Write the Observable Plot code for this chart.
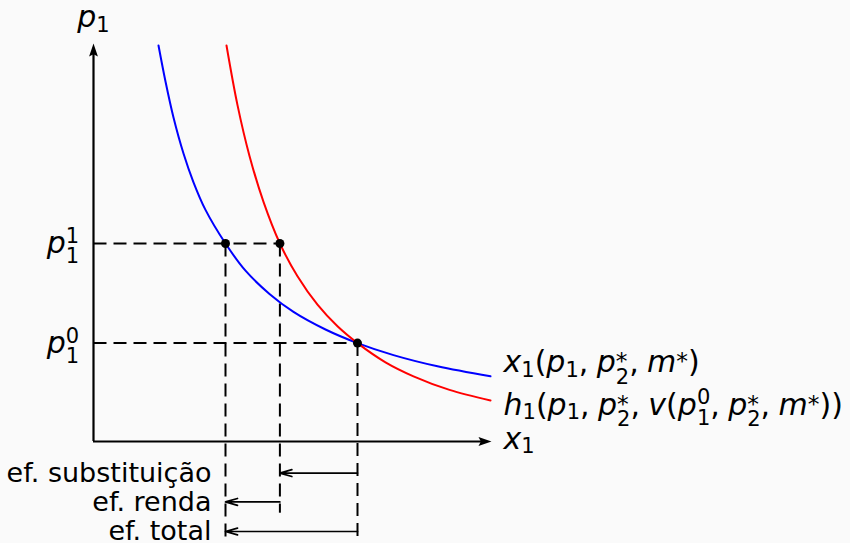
<!DOCTYPE html>
<html>
<head>
<meta charset="utf-8">
<script src="https://cdn.jsdelivr.net/npm/d3@7"></script>
<script src="https://cdn.jsdelivr.net/npm/@observablehq/plot@0.6"></script>
<style>
html, body { margin: 0; padding: 0; background: #fafafa; }
#chart svg { display: block; }
</style>
</head>
<body>
<div id="chart"></div>
<script>
// ---- data ----
// Marshallian demand x1(p1, p2*, m*) (blue)
const blueX = [1.625, 1.8, 2.0, 2.25, 2.5, 2.8, 3.3, 3.8, 4.4, 5.0, 5.8, 6.6, 7.5, 8.6, 9.925];
const blueP = [9.9, 9.0, 8.1, 7.2, 6.48, 5.79, 4.95, 4.27, 3.69, 3.24, 2.8, 2.46, 2.16, 1.88, 1.63];
// Hicksian demand h1 (red)
const redX = [3.325, 3.6, 3.9, 4.25, 4.66, 5.1, 5.6, 6.1, 6.6, 7.3, 8.0, 8.9, 9.925];
const redP = [9.9, 8.41, 7.14, 5.99, 4.95, 4.13, 3.42, 2.88, 2.46, 1.98, 1.63, 1.29, 1.025];

// price levels and tick labels
const priceLevels = [4.95, 2.46];
const priceLabels = ["p_1^1", "p_1^0"];

// marked points (x, p)
const pointX = [3.3, 4.66, 6.6];
const pointP = [4.95, 4.95, 2.46];

// horizontal guides: from axis to point
const hGuideP = [4.95, 2.46];
const hGuideToX = [4.66, 6.6];
// vertical guides: from point down
const vGuideX = [3.3, 4.66, 6.6];
const vGuideFromP = [4.95, 4.95, 2.46];
const vGuideToP = [-2.6, -1.78, -2.6];

// effects
const effectNames = ["ef. substituição", "ef. renda", "ef. total"];
const effectFrom = [6.6, 4.66, 6.6];
const effectTo = [4.66, 3.3, 3.3];
const effectRow = [-0.79, -1.51, -2.25];
const effectLabelX = 2.95;

// curve labels
const curveLabels = ["x_1(p_1, p_2^*, m^*)", "h_1(p_1, p_2^*, v(p_1^0, p_2^*, m^*))"];
const curveLabelY = [1.975, 0.915];
const curveLabelX = 10.25;

// axes
const axisTip = 9.95;
const axisLineEnd = 9.75;
const axisNames = ["p_1", "x_1"];

// ---- build ----
const arrowHead = {
  draw(ctx, size) {
    const s = Math.sqrt(size / Math.PI);
    ctx.moveTo(0, 0);
    ctx.lineTo(-0.34 * s, s);
    ctx.lineTo(0, 0.82 * s);
    ctx.lineTo(0.34 * s, s);
    ctx.closePath();
  }
};

const F = "DejaVu Sans";
const MATH = 30;
const TXT = 27;

const hGuides = hGuideP.map((p, i) => ({x1: 0, y1: p, x2: hGuideToX[i], y2: p}));
const vGuides = vGuideX.map((x, i) => ({x1: x, y1: vGuideFromP[i], x2: x, y2: vGuideToP[i]}));
const blue = blueX.map((x, i) => ({x, p: blueP[i]}));
const red = redX.map((x, i) => ({x, p: redP[i]}));
const points = pointX.map((x, i) => ({x, p: pointP[i]}));
const effects = effectNames.map((n, i) => ({n, x1: effectFrom[i], x2: effectTo[i], y: effectRow[i]}));

const plot = Plot.plot({
  width: 850,
  height: 543,
  margin: 0,
  x: {domain: [0, 10], range: [93, 493], axis: null},
  y: {domain: [0, 10], range: [441, 41], axis: null},
  style: {background: "#fafafa", fontFamily: F, overflow: "visible"},
  marks: [
    // dashed guides
    Plot.link(hGuides, {x1: "x1", y1: "y1", x2: "x2", y2: "y2", stroke: "black", strokeWidth: 2, strokeDasharray: "13,7"}),
    Plot.link(vGuides, {x1: "x1", y1: "y1", x2: "x2", y2: "y2", stroke: "black", strokeWidth: 2, strokeDasharray: "13,7"}),
    // axes
    Plot.ruleX([0], {y1: 0, y2: axisLineEnd, stroke: "black", strokeWidth: 2.2}),
    Plot.ruleY([0], {x1: 0, x2: axisLineEnd, stroke: "black", strokeWidth: 2.2}),
    Plot.dot([{x: 0, y: axisTip}], {x: "x", y: "y", r: 13, symbol: arrowHead, fill: "black", stroke: null}),
    Plot.dot([{x: axisTip, y: 0}], {x: "x", y: "y", r: 13, symbol: arrowHead, rotate: 90, fill: "black", stroke: null}),
    // curves
    Plot.line(blue, {x: "x", y: "p", stroke: "#0000ff", strokeWidth: 2, curve: "catmull-rom"}),
    Plot.line(red, {x: "x", y: "p", stroke: "#ff0000", strokeWidth: 2, curve: "catmull-rom"}),
    // points
    Plot.dot(points, {x: "x", y: "p", r: 4.5, fill: "black", stroke: null}),
    // effect arrows
    Plot.arrow(effects, {x1: "x1", x2: "x2", y1: "y", y2: "y", stroke: "black", strokeWidth: 1.7, headAngle: 32, headLength: 11}),
    Plot.text(effects, {x: effectLabelX, y: "y", text: "n", textAnchor: "end", fontSize: TXT, fontFamily: F, fill: "black"}),
    // tick labels
    Plot.text(priceLevels, {x: -0.36, y: d => d, text: (d, i) => priceLabels[i], textAnchor: "end", fontSize: MATH, fontFamily: F, fill: "black"}),
    // axis names
    Plot.text([axisNames[0]], {x: 0, y: 10.6, text: d => d, textAnchor: "middle", fontSize: MATH, fontFamily: F, fill: "black"}),
    Plot.text([axisNames[1]], {x: curveLabelX, y: 0.065, text: d => d, textAnchor: "start", fontSize: MATH, fontFamily: F, fill: "black"}),
    // curve labels
    Plot.text(curveLabels, {x: curveLabelX, y: (d, i) => curveLabelY[i], text: d => d, textAnchor: "start", fontSize: MATH, fontFamily: F, fill: "black"})
  ]
});

document.getElementById("chart").append(plot);

// ---- render simple TeX-like labels as real SVG text with tspans ----
const texSet = new Set([...priceLabels, ...axisNames, ...curveLabels]);
function renderTex(el, tex, fs) {
  const t = d3.select(el);
  t.text(null);
  const ss = 0.7 * fs;
  let cur = 0;      // current baseline offset (px, positive = down)
  let pendingDx = 0;
  let i = 0;
  const isLetter = c => /[A-Za-z]/.test(c);
  while (i < tex.length) {
    const c = tex[i++];
    if (c === " ") continue;
    let sub = null, sup = null;
    while (tex[i] === "_" || tex[i] === "^") {
      if (tex[i] === "_") sub = tex[i + 1]; else sup = tex[i + 1];
      i += 2;
    }
    const b = t.append("tspan").text(c)
      .attr("font-style", isLetter(c) ? "italic" : "normal")
      .attr("font-size", fs);
    if (cur !== 0) { b.attr("dy", -cur); cur = 0; }
    if (pendingDx) { b.attr("dx", pendingDx); pendingDx = 0; }
    if (c === ",") pendingDx = 0.28 * fs;
    let subW = 0;
    if (sub) {
      const shift = sup ? (sup === "*" ? 0.4 : 0.34) * fs : 0.16 * fs;
      const s = t.append("tspan").text(sub).attr("font-size", ss)
        .attr("font-style", isLetter(sub) ? "italic" : "normal")
        .attr("dy", shift - cur);
      cur = shift;
      subW = s.node().getComputedTextLength();
    }
    if (sup) {
      const shift = -(sup === "*" ? 0.1 : 0.34) * fs;
      const s = t.append("tspan").text(sup).attr("font-size", sup === "*" ? 0.78 * fs : ss)
        .attr("font-style", isLetter(sup) ? "italic" : "normal")
        .attr("dy", shift - cur);
      if (subW) s.attr("dx", -subW);
      cur = shift;
      const supW = s.node().getComputedTextLength();
      if (subW > supW) pendingDx += subW - supW;
    }
  }
  if (pendingDx) t.append("tspan").text("").attr("dx", pendingDx);
}

d3.select(plot).selectAll("text").each(function() {
  const s = this.textContent;
  if (texSet.has(s)) renderTex(this, s, MATH);
});
</script>
</body>
</html>
